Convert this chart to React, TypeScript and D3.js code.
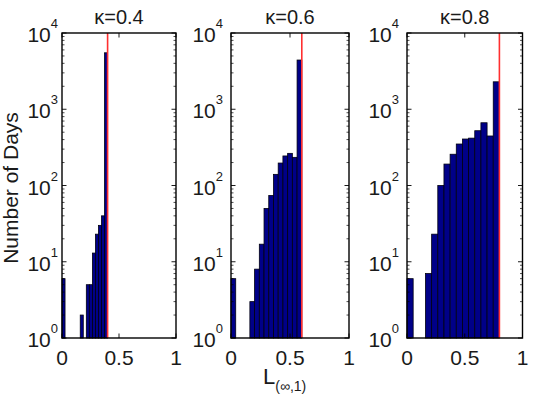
import React from "react";
import * as d3 from "d3";

// ---- data ----
const kappas = [0.4, 0.6, 0.8];
const titles = ["κ=0.4", "κ=0.6", "κ=0.8"];
const nBins = 15;
const counts04 = [6, 0, 0, 0, 0, 0, 2, 0, 5, 5, 13, 23, 30, 40, 5500];
const counts06 = [6, 0, 0, 0, 3, 8, 17, 50, 74, 140, 197, 244, 264, 234, 4420];
const counts08 = [6, 0, 0, 7, 23, 100, 191, 257, 350, 407, 418, 523, 665, 446, 2290];
const allCounts = [counts04, counts06, counts08];
const xTicks = [0, 0.5, 1];
const xTickLabels = ["0", "0.5", "1"];
const yDecades = [0, 1, 2, 3, 4];
const yLabel = "Number of Days";

// ---- layout ----
const W = 534;
const H = 398;
const TOP = 33;
const BOTTOM = 338;
const panels = [
  { left: 62, right: 176, gap: 4 },
  { left: 231, right: 349, gap: 8 },
  { left: 407, right: 522.5, gap: 8 },
];
const FONT = "'Liberation Sans', Arial, Helvetica, sans-serif";

function Panel({ idx }: { idx: number }) {
  const p = panels[idx];
  const k = kappas[idx];
  const counts = allCounts[idx];
  const x = d3.scaleLinear().domain([0, 1]).range([p.left, p.right]);
  const y = d3.scaleLog().domain([1, 1e4]).range([BOTTOM, TOP]);
  const bw = k / nBins;

  const minor: number[] = [];
  for (let d = 0; d < 4; d++) for (let m = 2; m <= 9; m++) minor.push(m * Math.pow(10, d));

  return (
    <g>
      {counts.map((c, i) =>
        c > 0 ? (
          <rect
            key={i}
            x={x(i * bw)}
            width={x((i + 1) * bw) - x(i * bw)}
            y={y(c)}
            height={BOTTOM - y(c)}
            fill="#000088"
            stroke="#000010"
            strokeWidth={0.8}
          />
        ) : null
      )}
      <line x1={x(k)} x2={x(k)} y1={TOP} y2={BOTTOM} stroke="#ff3030" strokeWidth={1.6} />
      {minor.map((v, i) => (
        <g key={"m" + i}>
          <line x1={p.left} x2={p.left + 2.5} y1={y(v)} y2={y(v)} stroke="#000" strokeWidth={0.7} />
          <line x1={p.right} x2={p.right - 2.5} y1={y(v)} y2={y(v)} stroke="#000" strokeWidth={0.7} />
        </g>
      ))}
      {yDecades.map((d) => {
        const yy = y(Math.pow(10, d));
        return (
          <g key={"y" + d}>
            <line x1={p.left} x2={p.left + 4.5} y1={yy} y2={yy} stroke="#000" strokeWidth={0.9} />
            <line x1={p.right} x2={p.right - 4.5} y1={yy} y2={yy} stroke="#000" strokeWidth={0.9} />
            <text
              x={p.left - p.gap}
              y={yy + 9}
              textAnchor="end"
              fontSize={21}
              fontFamily={FONT}
              fill="#1a1a1a"
            >
              10
              <tspan dy={-14} fontSize={13}>
                {String(d)}
              </tspan>
            </text>
          </g>
        );
      })}
      {xTicks.map((t, i) => (
        <g key={"x" + i}>
          <line x1={x(t)} x2={x(t)} y1={BOTTOM} y2={BOTTOM - 4.5} stroke="#000" strokeWidth={0.9} />
          <line x1={x(t)} x2={x(t)} y1={TOP} y2={TOP + 4.5} stroke="#000" strokeWidth={0.9} />
          <text
            x={x(t)}
            y={365}
            textAnchor="middle"
            fontSize={21}
            fontFamily={FONT}
            fill="#1a1a1a"
          >
            {xTickLabels[i]}
          </text>
        </g>
      ))}
      <rect
        x={p.left}
        y={TOP}
        width={p.right - p.left}
        height={BOTTOM - TOP}
        fill="none"
        stroke="#000"
        strokeWidth={1.4}
      />
      <text
        x={(p.left + p.right) / 2}
        y={24}
        textAnchor="middle"
        fontSize={20}
        fontFamily={FONT}
        fill="#1a1a1a"
      >
        {titles[idx]}
      </text>
    </g>
  );
}

export default function App() {
  return (
    <svg width={W} height={H} style={{ position: "absolute", left: 0, top: 0, background: "#fff" }}>
      <rect x={0} y={0} width={W} height={H} fill="#fff" />
      {panels.map((_, i) => (
        <Panel key={i} idx={i} />
      ))}
      <text
        transform={`translate(18,188) rotate(-90)`}
        textAnchor="middle"
        fontSize={21}
        fontFamily={FONT}
        fill="#1a1a1a"
      >
        {yLabel}
      </text>
      <text x={263} y={384} fontSize={22} fontFamily={FONT} fill="#1a1a1a">
        L
        <tspan dy={7} fontSize={14}>
          (∞,1)
        </tspan>
      </text>
    </svg>
  );
}
